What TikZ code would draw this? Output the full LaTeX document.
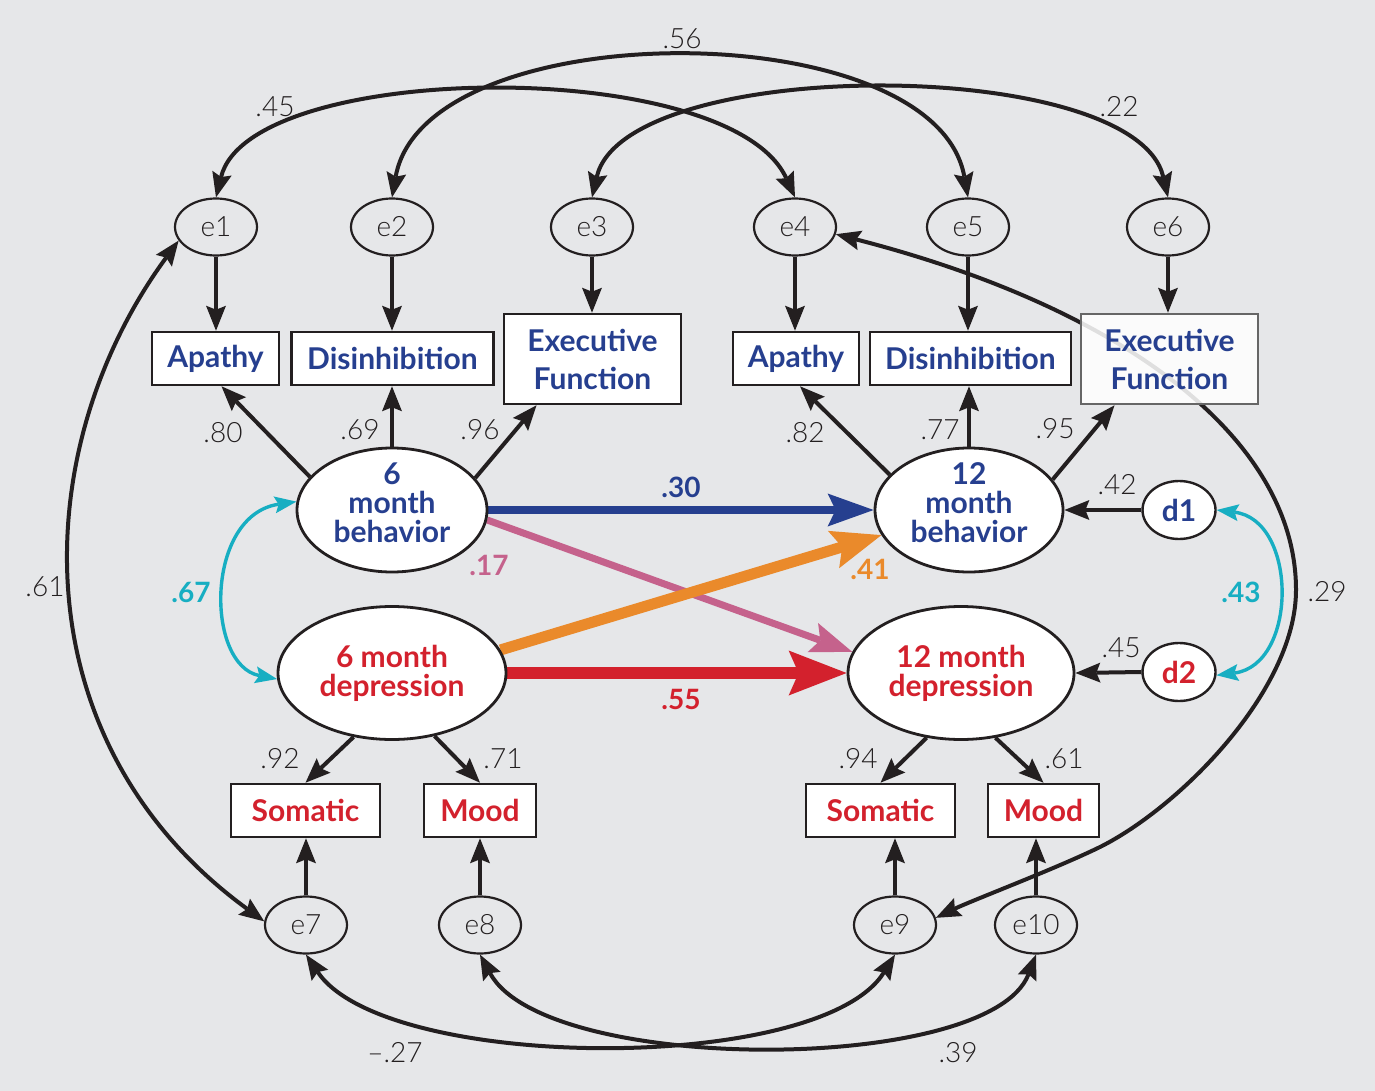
\documentclass[tikz,border=0pt]{standalone}
\usepackage{fontspec}
\setmainfont{Lato}
\newfontfamily\lightf{Lato Light}
\usetikzlibrary{arrows.meta,shapes.geometric}
\definecolor{bgc}{HTML}{E6E7E9}
\definecolor{ink}{HTML}{231F20}
\definecolor{dblue}{HTML}{263F8F}
\definecolor{dred}{HTML}{D3212D}
\definecolor{dorange}{HTML}{EA8A2B}
\definecolor{dpink}{HTML}{C5628C}
\definecolor{dcyan}{HTML}{17AEC2}
\pgfdeclarelayer{bglayer}
\pgfdeclarelayer{conn}
\pgfsetlayers{bglayer,conn,main}
\newcommand\numf{\lightf\fontsize{28}{28}\selectfont}
\newcommand\cnumf{\fontsize{28}{28}\selectfont\bfseries}
\newcommand\boxf{\fontsize{30}{29}\selectfont\bfseries}
\begin{document}
\begin{tikzpicture}[x=1pt,y=-1pt,
 blk/.tip={Stealth[length=25pt,width=20pt,inset=4pt,line width=0pt]},
 cyt/.tip={Stealth[length=22pt,width=17pt,inset=4pt,line width=0pt]},
 arr/.style={draw=ink,line width=4pt,-blk},
 biarr/.style={draw=ink,line width=4pt,blk-blk},
 cyarr/.style={draw=dcyan,line width=3.4pt,cyt-cyt},
 err/.style={ellipse,draw=ink,line width=2.2pt,minimum width=82pt,minimum height=57pt,inner sep=0pt,font=\numf,text=ink},
 dst/.style={ellipse,draw=ink,fill=white,line width=2.4pt,minimum width=73pt,minimum height=58pt,inner sep=0pt,font=\boxf},
 box/.style={rectangle,draw=ink,fill=white,line width=2.6pt,inner sep=0pt,minimum height=53pt,font=\boxf,align=center},
 efbox/.style={box,minimum height=90pt,font=\fontsize{30}{38}\selectfont\bfseries},
 lat/.style={ellipse,draw=ink,fill=white,line width=2.8pt,inner sep=0pt,align=center,font=\boxf},
 num/.style={font=\numf,text=ink,inner sep=0pt},
 cnum/.style={font=\cnumf,inner sep=0pt}
]
\useasboundingbox (0,0) rectangle (1375,1091);
\begin{pgfonlayer}{bglayer}
\fill[bgc] (0,0) rectangle (1375,1091);
\end{pgfonlayer}

% error terms
\node[err] (e1) at (216,227) {e1};
\node[err] (e2) at (392,227) {e2};
\node[err] (e3) at (592,227) {e3};
\node[err] (e4) at (795,227) {e4};
\node[err] (e5) at (968,227) {e5};
\node[err] (e6) at (1168,227) {e6};
\node[err] (e7) at (306,925) {e7};
\node[err] (e8) at (480,925) {e8};
\node[err] (e9) at (895,925) {e9};
\node[err] (e10) at (1036,925) {e10};

% indicator boxes
\node[box,text=dblue,minimum width=127pt] (apl) at (215.5,358.5) {Apathy};
\node[box,text=dblue,minimum width=202pt] (dil) at (392.5,358.5) {Disinhibition};
\node[efbox,text=dblue,minimum width=177pt] (efl) at (592.5,359) {Executive\\Function};
\node[box,text=dblue,minimum width=126pt] (apr) at (796,358.5) {Apathy};
\node[box,text=dblue,minimum width=201pt] (dir) at (970.5,358.5) {Disinhibition};
\node[efbox,text=dblue,minimum width=177pt,draw=black!60,fill opacity=0.86,text opacity=1] (efr) at (1169.5,359) {Executive\\Function};
\node[box,text=dred,minimum width=149pt] (soml) at (305.5,810.5) {Somatic};
\node[box,text=dred,minimum width=112pt] (mol) at (480,810.5) {Mood};
\node[box,text=dred,minimum width=149pt] (somr) at (880.5,810.5) {Somatic};
\node[box,text=dred,minimum width=111pt] (mor) at (1043.5,810.5) {Mood};

% latent variables
\node[lat,minimum width=190pt,minimum height=124pt,label={[font=\boxf,text=dblue,align=center,yshift=7pt]center:6\\month\\behavior}] (lat6b) at (392,510) {};
\node[lat,minimum width=188pt,minimum height=124pt,label={[font=\boxf,text=dblue,align=center,yshift=7pt]center:12\\month\\behavior}] (lat12b) at (969,510) {};
\node[lat,text=dred,minimum width=228pt,minimum height=133pt] (lat6d) at (392,673) {6 month\\depression};
\node[lat,text=dred,minimum width=226pt,minimum height=133pt] (lat12d) at (961,673) {12 month\\depression};
\node[dst,text=dblue] (d1) at (1179,510) {d1};
\node[dst,text=dred] (d2) at (1179,672) {d2};

\coordinate (c29a) at (1296,590);
\coordinate (c29b) at (1100,847);

\begin{pgfonlayer}{conn}
% error -> indicator
\draw[arr] (e1.south) -- (e1.south |- apl.north);
\draw[arr] (e2.south) -- (e2.south |- dil.north);
\draw[arr] (e3.south) -- (e3.south |- efl.north);
\draw[arr] (e4.south) -- (e4.south |- apr.north);
\draw[arr] (e5.south) -- (e5.south |- dir.north);
\draw[arr] (e6.south) -- (e6.south |- efr.north);
\draw[arr] (e7.north) -- (e7.north |- soml.south);
\draw[arr] (e8.north) -- (e8.north |- mol.south);
\draw[arr] (e9.north) -- (e9.north |- somr.south);
\draw[arr] (e10.north) -- (e10.north |- mor.south);
% loadings
\draw[arr] (lat6b.158) -- ([xshift=6pt]apl.south);
\draw[arr] (lat6b.north) -- (lat6b.north |- dil.south);
\draw[arr] (lat6b.21) -- ([xshift=-56pt]efl.south);
\draw[arr] (lat12b.156) -- ([xshift=4pt]apr.south);
\draw[arr] (lat12b.north) -- (lat12b.north |- dir.south);
\draw[arr] (lat12b.20) -- ([xshift=-55pt]efr.south);
\draw[arr] (lat6d.239) -- (soml.north);
\draw[arr] (lat6d.304) -- (mol.north);
\draw[arr] (lat12d.242) -- (somr.north);
\draw[arr] (lat12d.298) -- (mor.north);
\draw[arr] (d1.west) -- (lat12b.east);
\draw[arr] (d2.west) -- (lat12d.east);
% covariances among errors
\draw[biarr] (e1.north) .. controls (250,60) and (730,55) .. (e4.north);
\draw[biarr] (e2.north) .. controls (425,12) and (935,12) .. (e5.north);
\draw[biarr] (e3.north) .. controls (625,55) and (1135,55) .. (e6.north);
\draw[biarr] (e1.200) .. controls (28,446) and (16,740) .. (e7.175);
\draw[biarr] (e4.350) .. controls (1127,309) and (1296,440) .. (c29a)
  .. controls (1296,690) and (1180,807) .. (c29b)
  .. controls (1055,869) and (973,900) .. (e9.10);
\draw[biarr] (e7.south) .. controls (385,1072) and (820,1075) .. (e9.south);
\draw[biarr] (e8.south) .. controls (545,1075) and (990,1075) .. (e10.south);
% latent covariances
\draw[cyarr] (lat6b.175) .. controls (205,515) and (205,665) .. (lat6d.183);
\draw[cyarr] (d1.east) .. controls (1298,520) and (1298,665) .. (d2.355);
% structural paths
\draw[draw=dblue,line width=8pt,-{Stealth[length=46pt,width=33pt,inset=8pt,line width=0pt]}] (lat6b.east) -- (lat12b.west);
\draw[draw=dpink,line width=7pt,-{Stealth[length=42pt,width=31pt,inset=8pt,line width=0pt]}] (lat6b.354) -- (lat12d.169);
\draw[draw=dorange,line width=11pt,-{Stealth[length=50pt,width=39pt,inset=9pt,line width=0pt]}] (lat6d.12) -- (lat12b.196);
\draw[draw=dred,line width=12pt,-{Stealth[length=58pt,width=45pt,inset=10pt,line width=0pt]}] (lat6d.east) -- (lat12d.west);
\end{pgfonlayer}

% coefficient labels
\node[num] (n80) at (223,433) {.80};
\node[num] (n69) at (360,430) {.69};
\node[num] (n96) at (480,430) {.96};
\node[num] (n82) at (805,433) {.82};
\node[num] (n77) at (940,430) {.77};
\node[num] (n95) at (1055,429) {.95};
\node[num] (n42) at (1117,485) {.42};
\node[num] (n45b) at (1121,648) {.45};
\node[num] (n92) at (280,759) {.92};
\node[num] (n71) at (503,759) {.71};
\node[num] (n94) at (858,759) {.94};
\node[num] (n61b) at (1064,759) {.61};
\node[num] (n45) at (275,107) {.45};
\node[num] (n56) at (682,39) {.56};
\node[num] (n22) at (1119,107) {.22};
\node[num] (n61) at (45,587) {.61};
\node[num] (n29) at (1327,592) {.29};
\node[num] (n27) at (395,1053) {–.27};
\node[num] (n39) at (958,1053) {.39};
\node[cnum,text=dcyan] (n67) at (191,592) {.67};
\node[cnum,text=dcyan] (n43) at (1241,592) {.43};
\node[cnum,text=dblue] (n30) at (681,487) {.30};
\node[cnum,text=dpink] (n17) at (489,565) {.17};
\node[cnum,text=dorange] (n41) at (870,569) {.41};
\node[cnum,text=dred] (n55) at (681,699) {.55};
\end{tikzpicture}
\end{document}
